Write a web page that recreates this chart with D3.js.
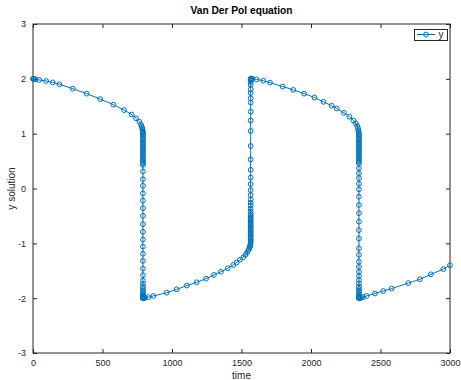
<!DOCTYPE html>
<html>
<head>
<meta charset="utf-8">
<script src="https://cdn.jsdelivr.net/npm/d3@7"></script>
<style>
  html, body { margin: 0; padding: 0; background: #fff; }
  svg { display: block; font-family: "Liberation Sans", Arial, sans-serif; }
</style>
</head>
<body>
<div id="chart"></div>
<script>
// values: [time, y]
const slow1 = [
  [0, 2.00], [3, 2.00], [8, 1.995], [18, 1.99], [45, 1.98], [94, 1.96], [142, 1.935],
  [190, 1.90], [286, 1.82], [386, 1.73], [484, 1.63], [578, 1.53], [655, 1.43],
  [710, 1.35], [741, 1.28], [765, 1.22], [776, 1.17], [782, 1.13], [786, 1.10],
  [788, 1.07], [789.5, 1.04], [790.5, 1.02]
];
const drop1Time = 791;
const drop1Y = [
  1.00, 0.97, 0.94, 0.91, 0.88, 0.85, 0.82, 0.79, 0.76, 0.73, 0.70, 0.67, 0.64,
  0.61, 0.58, 0.55, 0.52, 0.49, 0.46, 0.43, 0.31, 0.17, 0.05, -0.09, -0.22, -0.36,
  -0.50, -0.65, -0.79, -0.93, -1.06, -1.19, -1.32, -1.46, -1.58, -1.68, -1.74,
  -1.79, -1.83, -1.87, -1.90, -1.93, -1.95, -1.97, -1.985, -1.995, -2.00
];
const slow2 = [
  [794, -2.00], [798, -1.995], [806, -1.99], [830, -1.98], [866, -1.96], [962, -1.90],
  [1034, -1.84], [1106, -1.77], [1178, -1.71], [1245, -1.645], [1302, -1.575],
  [1352, -1.52], [1401, -1.455], [1441, -1.395], [1465, -1.35], [1489, -1.30],
  [1513, -1.255], [1528, -1.21], [1540, -1.17], [1549, -1.13], [1555, -1.10],
  [1559, -1.07], [1562, -1.05], [1564, -1.03]
];
const rise1Time = 1566;
const rise1Y = [
  -1.00, -0.97, -0.94, -0.91, -0.88, -0.85, -0.82, -0.79, -0.76, -0.73, -0.70,
  -0.67, -0.64, -0.61, -0.58, -0.55, -0.52, -0.49, -0.46, -0.42, -0.37, -0.31,
  -0.26, -0.20, -0.12, -0.03, 0.08, 0.20, 0.34, 0.53, 0.775, 1.05, 1.24, 1.40,
  1.565, 1.645, 1.74, 1.81, 1.89, 1.94, 1.97, 1.99, 2.00
];
const slow3 = [
  [1569, 2.005], [1578, 2.00], [1609, 1.99], [1657, 1.965], [1705, 1.93],
  [1796, 1.86], [1873, 1.80], [1950, 1.73], [2025, 1.66], [2090, 1.58],
  [2149, 1.51], [2185, 1.46], [2237, 1.38], [2276, 1.31], [2305, 1.24],
  [2322, 1.19], [2332, 1.14], [2338, 1.10], [2341, 1.06], [2343, 1.03]
];
const drop2Time = 2345;
const drop2Y = [
  1.00, 0.97, 0.94, 0.91, 0.88, 0.85, 0.82, 0.79, 0.76, 0.73, 0.70, 0.67, 0.64,
  0.61, 0.58, 0.55, 0.52, 0.49, 0.46, 0.37, 0.28, 0.19, 0.09, -0.015, -0.15,
  -0.30, -0.45, -0.605, -0.76, -0.91, -1.09, -1.21, -1.335, -1.43, -1.52, -1.60,
  -1.67, -1.73, -1.79, -1.83, -1.87, -1.90, -1.93, -1.96, -1.98, -1.995, -2.00
];
const slow4 = [
  [2348, -2.00], [2352, -1.995], [2360, -1.99], [2375, -1.98], [2400, -1.96],
  [2460, -1.915], [2520, -1.87], [2580, -1.825], [2700, -1.725], [2784, -1.655],
  [2863, -1.565], [2952, -1.47], [3000, -1.40]
];

const xTicks = [0, 500, 1000, 1500, 2000, 2500, 3000];
const yTicks = [-3, -2, -1, 0, 1, 2, 3];

const data = [
  ...slow1,
  ...drop1Y.map(v => [drop1Time, v]),
  ...slow2,
  ...rise1Y.map(v => [rise1Time, v]),
  ...slow3,
  ...drop2Y.map(v => [drop2Time, v]),
  ...slow4
];

const width = 461;
const height = 380;
const marginTop = 24;
const marginRight = 11;
const marginBottom = 27;
const marginLeft = 33;
const blue = "#0072bd";
const axisColor = "#262626";
const plain = d => String(d);

const x = d3.scaleLinear()
  .domain([0, 3000])
  .range([marginLeft, width - marginRight]);

const y = d3.scaleLinear()
  .domain([-3, 3])
  .range([height - marginBottom, marginTop]);

const svg = d3.select("#chart").append("svg")
  .attr("width", width)
  .attr("height", height)
  .attr("viewBox", [0, 0, width, height]);

// bottom axis with labels, ticks pointing in
svg.append("g")
  .attr("transform", `translate(0,${height - marginBottom})`)
  .call(d3.axisBottom(x).tickValues(xTicks).tickFormat(plain).tickSize(-4).tickPadding(7))
  .call(g => g.select(".domain").remove())
  .call(g => g.selectAll(".tick line").attr("stroke", axisColor))
  .call(g => g.selectAll(".tick text").attr("fill", axisColor).attr("font-size", 9)
    .attr("font-family", "Liberation Sans, Arial, sans-serif"));

// top axis, ticks only
svg.append("g")
  .attr("transform", `translate(0,${marginTop})`)
  .call(d3.axisTop(x).tickValues(xTicks).tickSize(-4).tickFormat(""))
  .call(g => g.select(".domain").remove())
  .call(g => g.selectAll(".tick line").attr("stroke", axisColor));

// left axis
svg.append("g")
  .attr("transform", `translate(${marginLeft},0)`)
  .call(d3.axisLeft(y).tickValues(yTicks).tickFormat(plain).tickSize(-4).tickPadding(7))
  .call(g => g.select(".domain").remove())
  .call(g => g.selectAll(".tick line").attr("stroke", axisColor))
  .call(g => g.selectAll(".tick text").attr("fill", axisColor).attr("font-size", 9)
    .attr("font-family", "Liberation Sans, Arial, sans-serif"));

// right axis, ticks only
svg.append("g")
  .attr("transform", `translate(${width - marginRight},0)`)
  .call(d3.axisRight(y).tickValues(yTicks).tickSize(-4).tickFormat(""))
  .call(g => g.select(".domain").remove())
  .call(g => g.selectAll(".tick line").attr("stroke", axisColor));

// axes box
svg.append("rect")
  .attr("x", marginLeft)
  .attr("y", marginTop)
  .attr("width", width - marginLeft - marginRight)
  .attr("height", height - marginTop - marginBottom)
  .attr("fill", "none")
  .attr("stroke", axisColor)
  .attr("stroke-width", 1);

// solution line + circle markers
const line = d3.line()
  .x(d => x(d[0]))
  .y(d => y(d[1]));

svg.append("path")
  .datum(data)
  .attr("fill", "none")
  .attr("stroke", blue)
  .attr("stroke-width", 1)
  .attr("d", line);

svg.append("g")
  .attr("fill", "none")
  .attr("stroke", blue)
  .attr("stroke-width", 1)
  .selectAll("circle")
  .data(data)
  .join("circle")
  .attr("cx", d => x(d[0]))
  .attr("cy", d => y(d[1]))
  .attr("r", 2.4);

// title and labels
svg.append("text")
  .attr("x", (marginLeft + width - marginRight) / 2)
  .attr("y", 14)
  .attr("text-anchor", "middle")
  .attr("font-size", 10.2)
  .attr("font-weight", "bold")
  .attr("fill", "#000")
  .text("Van Der Pol equation");

svg.append("text")
  .attr("x", (marginLeft + width - marginRight) / 2)
  .attr("y", 379)
  .attr("text-anchor", "middle")
  .attr("font-size", 10)
  .attr("fill", axisColor)
  .text("time");

svg.append("text")
  .attr("transform", `translate(15,${y(0)}) rotate(-90)`)
  .attr("text-anchor", "middle")
  .attr("font-size", 10)
  .attr("fill", axisColor)
  .text("y solution");

// legend
const legend = svg.append("g");
legend.append("rect")
  .attr("x", 414.5)
  .attr("y", 29.5)
  .attr("width", 33)
  .attr("height", 11)
  .attr("fill", "#fff")
  .attr("stroke", axisColor)
  .attr("stroke-width", 1);
legend.append("line")
  .attr("x1", 417).attr("x2", 435)
  .attr("y1", 34.5).attr("y2", 34.5)
  .attr("stroke", blue)
  .attr("stroke-width", 1);
legend.append("circle")
  .attr("cx", 426).attr("cy", 34.5).attr("r", 2.4)
  .attr("fill", "none")
  .attr("stroke", blue)
  .attr("stroke-width", 1);
legend.append("text")
  .attr("x", 438.5)
  .attr("y", 37.5)
  .attr("font-size", 10)
  .attr("fill", axisColor)
  .text("y");
</script>
</body>
</html>
